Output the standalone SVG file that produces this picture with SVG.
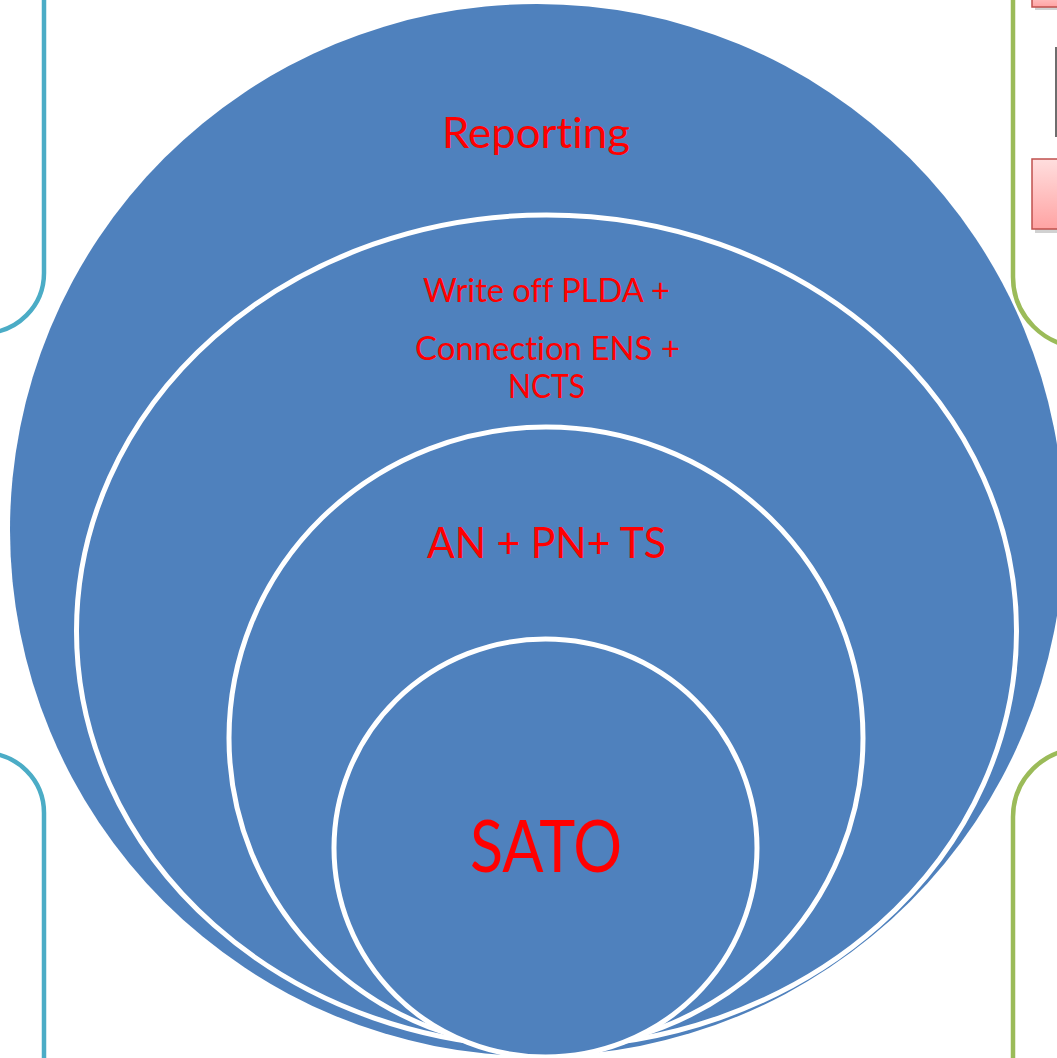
<svg xmlns="http://www.w3.org/2000/svg" width="1057" height="1058" viewBox="0 0 1057 1058">
  <defs>
    <linearGradient id="pink" x1="0" y1="0" x2="0" y2="1">
      <stop offset="0" stop-color="#FFDEDE"/>
      <stop offset="1" stop-color="#FFA3A3"/>
    </linearGradient>
    <style>
      .ring { fill: #4F81BD; stroke: #FFFFFF; stroke-width: 5; }
      .outer { fill: #4F81BD; stroke: none; }
      .lbl { font-family: Lato, "Open Sans", "Liberation Sans", sans-serif; fill: #FF0000; text-anchor: middle; font-variant-ligatures: none; font-feature-settings: "liga" 0, "clig" 0; }
      .teal { fill: none; stroke: #4BACC6; stroke-width: 4.5; }
      .green { fill: none; stroke: #9BBB59; stroke-width: 4.5; }
      .box { fill: url(#pink); stroke: #C0504D; stroke-width: 1.5; }
      .shadow { fill: #000000; opacity: 0.18; }
    </style>
  </defs>
  <rect x="0" y="0" width="1057" height="1058" fill="#FFFFFF"/>

  <g id="frames">
    <path class="teal" d="M44,-5 V273 A60,60 0 0 1 -16,333"/>
    <path class="teal" d="M-16,753 A60,60 0 0 1 44,813 V1063"/>
    <path class="green" d="M1013,-5 V277 A70,70 0 0 0 1083,347"/>
    <path class="green" d="M1081,749 A68,68 0 0 0 1013,817 V1063"/>
    <rect class="shadow" x="1035" y="-10" width="30" height="20"/>
    <rect class="box" x="1032" y="-12" width="30" height="19"/>
    <line x1="1056" y1="47" x2="1056" y2="137" stroke="#6E6E6E" stroke-width="2"/>
    <rect class="shadow" x="1035" y="162" width="30" height="71"/>
    <rect class="box" x="1032" y="159" width="30" height="70"/>
  </g>

  <g id="connectors"></g>

  <g id="node-reporting">
    <ellipse class="outer" cx="537" cy="530" rx="527" ry="526"/>
    <text class="lbl" x="536" y="148" font-size="42" textLength="188" lengthAdjust="spacingAndGlyphs">Reporting</text>
  </g>

  <g id="node-writeoff">
    <ellipse class="ring" cx="546.5" cy="631" rx="470" ry="416"/>
    <text class="lbl" x="546.5" y="302" font-size="33" textLength="247" lengthAdjust="spacingAndGlyphs">Write off PLDA +</text>
    <text class="lbl" x="547.5" y="360" font-size="33" textLength="265" lengthAdjust="spacingAndGlyphs">Connection ENS +</text>
    <text class="lbl" x="546.5" y="398" font-size="33" textLength="77" lengthAdjust="spacingAndGlyphs">NCTS</text>
  </g>

  <g id="node-an-pn-ts">
    <ellipse class="ring" cx="546" cy="738" rx="317" ry="311"/>
    <text class="lbl" x="546.5" y="558" font-size="43" textLength="239" lengthAdjust="spacingAndGlyphs">AN + PN+ TS</text>
  </g>

  <g id="node-sato">
    <ellipse class="ring" cx="545.5" cy="848" rx="211.5" ry="209"/>
    <text class="lbl" x="546" y="872" font-size="71" textLength="152" lengthAdjust="spacingAndGlyphs">SATO</text>
  </g>
</svg>
